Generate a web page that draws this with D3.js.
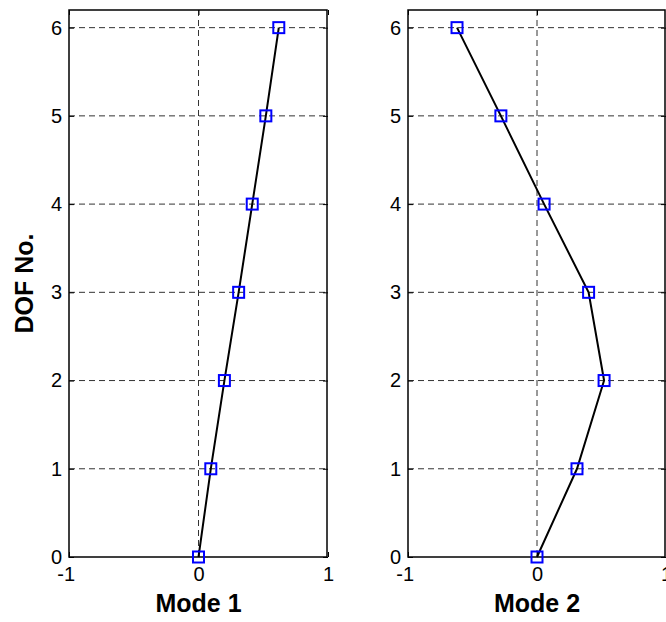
<!DOCTYPE html>
<html>
<head>
<meta charset="utf-8">
<script src="https://cdn.jsdelivr.net/npm/d3@7"></script>
<style>
  body { margin: 0; background: #fff; }
  svg { display: block; font-family: "Liberation Sans", Arial, sans-serif; }
</style>
</head>
<body>
<div id="chart"></div>
<script>
// DOF numbers and mode shape values
const dofs = [0, 1, 2, 3, 4, 5, 6];
const mode1 = [0, 0.095, 0.20, 0.31, 0.415, 0.52, 0.62];
const mode2 = [0, 0.31, 0.52, 0.40, 0.055, -0.28, -0.62];
const panelTitles = ["Mode 1", "Mode 2"];
const xTicks = [-1, 0, 1];
const yTicks = [0, 1, 2, 3, 4, 5, 6];

const W = 666, H = 622;
const plotTop = 10, plotBottom = 557;
const panels = [
    { x0: 69, x1: 328, values: mode1, title: panelTitles[0] },
    { x0: 408, x1: 666, values: mode2, title: panelTitles[1] }
];

const svg = d3.select("#chart").append("svg")
    .attr("width", W)
    .attr("height", H);

const y = d3.scaleLinear().domain([0, 6.2]).range([plotBottom, plotTop]);
const fmt = d => String(d);

panels.forEach(p => {
    const x = d3.scaleLinear().domain([-1, 1]).range([p.x0, p.x1]);
    const g = svg.append("g");

    // dashed grid
    g.selectAll(".gx").data(xTicks.slice(1, -1)).enter().append("line")
        .attr("x1", d => x(d)).attr("x2", d => x(d))
        .attr("y1", plotTop).attr("y2", plotBottom)
        .attr("stroke", "#333").attr("stroke-width", 1)
        .attr("stroke-dasharray", "6,4");
    g.selectAll(".gy").data(yTicks.slice(1)).enter().append("line")
        .attr("x1", p.x0).attr("x2", p.x1)
        .attr("y1", d => y(d)).attr("y2", d => y(d))
        .attr("stroke", "#333").attr("stroke-width", 1)
        .attr("stroke-dasharray", "6,4");

    // axes with inward ticks
    const xb = g.append("g").attr("transform", `translate(0,${plotBottom})`)
        .call(d3.axisBottom(x).tickValues(xTicks).tickFormat(fmt).tickSizeInner(-5).tickSizeOuter(0).tickPadding(10));
    const xt = g.append("g").attr("transform", `translate(0,${plotTop})`)
        .call(d3.axisTop(x).tickValues(xTicks).tickSizeInner(-5).tickSizeOuter(0).tickFormat(""));
    const yl = g.append("g").attr("transform", `translate(${p.x0},0)`)
        .call(d3.axisLeft(y).tickValues(yTicks).tickFormat(fmt).tickSizeInner(-5).tickSizeOuter(0).tickPadding(7));
    const yr = g.append("g").attr("transform", `translate(${p.x1},0)`)
        .call(d3.axisRight(y).tickValues(yTicks).tickSizeInner(-5).tickSizeOuter(0).tickFormat(""));

    [xb, xt, yl, yr].forEach(a => {
        a.select(".domain").remove();
        a.selectAll("line").attr("stroke", "#000");
        a.selectAll("text").attr("font-size", 20).attr("fill", "#000")
            .attr("font-family", "Liberation Sans, Arial, sans-serif");
    });
    // digits centred on the tick, minus sign hanging to the left
    xb.selectAll("text").attr("dx", d => d < 0 ? -3.3 : 0);

    // box
    g.append("rect")
        .attr("x", p.x0).attr("y", plotTop)
        .attr("width", p.x1 - p.x0 - 1).attr("height", plotBottom - plotTop)
        .attr("fill", "none").attr("stroke", "#000").attr("stroke-width", 1.5);

    const pts = dofs.map((d, i) => ({ dof: d, v: p.values[i] }));

    g.append("path").datum(pts)
        .attr("fill", "none").attr("stroke", "#000").attr("stroke-width", 2)
        .attr("d", d3.line().x(d => x(d.v)).y(d => y(d.dof)));

    g.selectAll(".mk").data(pts).enter().append("rect")
        .attr("x", d => x(d.v) - 5.5).attr("y", d => y(d.dof) - 5.5)
        .attr("width", 11).attr("height", 11)
        .attr("fill", "none").attr("stroke", "#0000ff").attr("stroke-width", 2);

    g.append("text")
        .attr("x", x(0)).attr("y", 612)
        .attr("text-anchor", "middle")
        .attr("font-size", 25).attr("font-weight", "bold")
        .text(p.title);
});

svg.append("text")
    .attr("transform", `translate(33,${(plotTop + plotBottom) / 2}) rotate(-90)`)
    .attr("text-anchor", "middle")
    .attr("font-size", 25).attr("font-weight", "bold")
    .text("DOF No.");
</script>
</body>
</html>
